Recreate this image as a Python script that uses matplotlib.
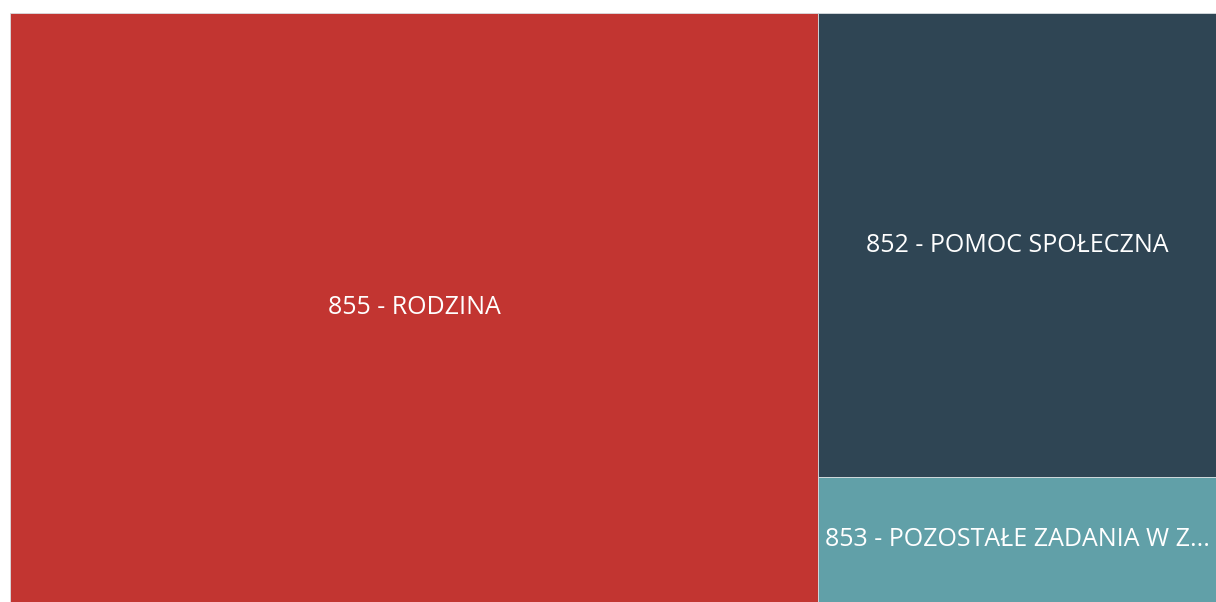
import matplotlib
matplotlib.use("Agg")
import matplotlib.pyplot as plt
from matplotlib.patches import Rectangle

# treemap data (share of total, read from tile areas)
labels = ["855 - RODZINA", "852 - POMOC SPOŁECZNA", "853 - POZOSTAŁE ZADANIA W Z..."]
values = [67.0, 26.0, 7.0]
colors = ["#c23531", "#2f4554", "#61a0a8"]

fig = plt.figure(figsize=(12.16, 6.02), dpi=100)
ax = fig.add_axes([10 / 1216, 0, 1206 / 1216, 589 / 602])
ax.set_xlim(0, 1)
ax.set_ylim(0, 1)
ax.axis("off")

# first item takes the full height, the rest are stacked in the remaining column
total = sum(values)
w0 = values[0] / total
rects = [(0, 0, w0, 1)]
rest = sum(values[1:])
y = 1.0
for v in values[1:]:
    h = v / rest
    rects.append((w0, y - h, 1 - w0, h))
    y -= h

for (x0, y0, w, h), lab, c in zip(rects, labels, colors):
    ax.add_patch(Rectangle((x0, y0), w, h, facecolor=c, edgecolor="#d8dde0", linewidth=0.6))
    ax.text(x0 + w / 2, y0 + h / 2, lab, ha="center", va="center",
            color="white", fontsize=18, family=["Open Sans", "DejaVu Sans"])

fig.savefig("out.png", dpi=100)
